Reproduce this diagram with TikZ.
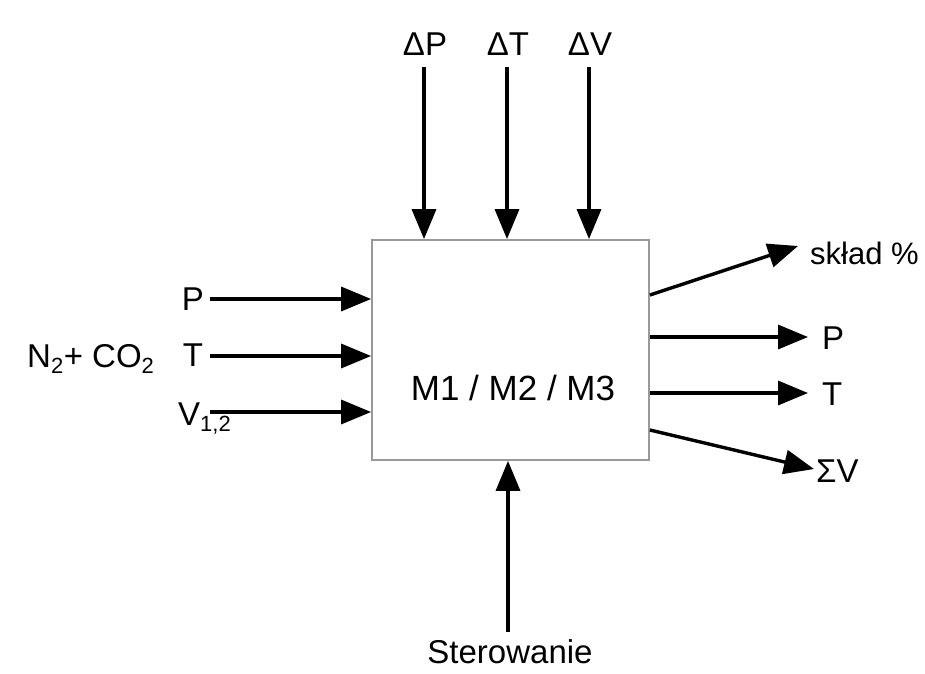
\documentclass[tikz,border=0pt]{standalone}
\usepackage{fontspec}
\setmainfont{Liberation Sans}
\usetikzlibrary{arrows.meta}
\begin{document}
\begin{tikzpicture}[x=1pt,y=-1pt,
  lbl/.style={inner sep=0pt,anchor=base,font=\fontsize{33}{36}\selectfont},
  arr/.style={line width=3.4pt,-{Triangle[length=30pt,width=24pt]}},
  boxst/.style={draw=black!40,line width=1.8pt,minimum width=277pt,minimum height=220pt,inner sep=0pt}]
\useasboundingbox[fill=white] (0,0) rectangle (925,673);
% box
\node[boxst] (box) at (510.5,350) {};
\node[lbl,font=\fontsize{35}{38}\selectfont] (mtxt) at (513,400) {M1 / M2 / M3};
% top inputs
\node[lbl] (dP) at (425,55) {ΔP};
\node[lbl] (dT) at (508,55) {ΔT};
\node[lbl] (dV) at (590,55) {ΔV};
\coordinate (cP) at (424,67);
\coordinate (cT) at (507,67);
\coordinate (cV) at (589,67);
\draw[arr] (cP) -- (box.north -| cP);
\draw[arr] (cT) -- (box.north -| cT);
\draw[arr] (cV) -- (box.north -| cV);
% left inputs
\node[lbl] (lP) at (193,310) {P};
\node[lbl] (lT) at (193,366) {T};
\node[lbl,anchor=base west] (lV) at (178,425) {V\textsubscript{\fontsize{22}{24}\selectfont 1,2}};
\node[lbl,anchor=base west] (gas) at (27,367) {N\textsubscript{\fontsize{22}{24}\selectfont 2}+ CO\textsubscript{\fontsize{22}{24}\selectfont 2}};
\coordinate (sP) at (210,299);
\coordinate (sT) at (210,356);
\coordinate (sV) at (210,412);
\draw[arr] (sP) -- (box.west |- sP);
\draw[arr] (sT) -- (box.west |- sT);
\draw[arr] (sV) -- (box.west |- sV);
% right outputs
\node[lbl,anchor=base west,font=\fontsize{31}{34}\selectfont] (rS) at (810,264) {skład \%};
\node[lbl,anchor=base west] (rP) at (822,349) {P};
\node[lbl,anchor=base west] (rT) at (822,405) {T};
\node[lbl,anchor=base west] (rV) at (816,482) {ΣV};
\coordinate (oS) at (650,295);
\coordinate (oP) at (650,337);
\coordinate (oT) at (650,393);
\coordinate (oV) at (650,430);
\coordinate (eS) at (798,246);
\coordinate (eP) at (808,337);
\coordinate (eT) at (808,393);
\coordinate (eV) at (814,469);
\draw[arr] (box.east |- oS) -- (eS);
\draw[arr] (box.east |- oP) -- (eP);
\draw[arr] (box.east |- oT) -- (eT);
\draw[arr] (box.east |- oV) -- (eV);
% bottom control
\node[lbl] (ster) at (510,663) {Sterowanie};
\coordinate (cs) at (508,632);
\draw[arr] (cs) -- (box.south -| cs);
\end{tikzpicture}
\end{document}
